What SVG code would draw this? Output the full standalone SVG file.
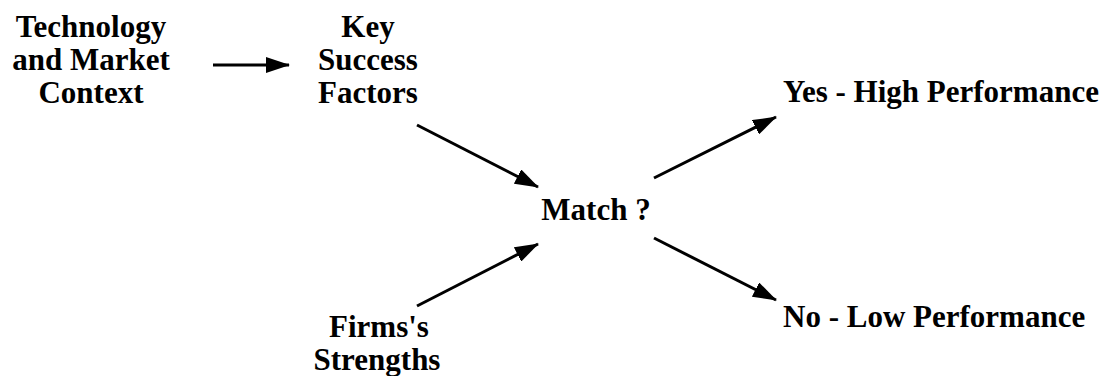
<svg xmlns="http://www.w3.org/2000/svg" width="1112" height="376" viewBox="0 0 1112 376">
<style>
.t{font-family:"Liberation Serif","Times New Roman",serif;font-weight:bold;font-size:31px;fill:#000}
.c{text-anchor:middle}
.e{stroke:#000;stroke-width:3;fill:none}
</style>
<defs>
<marker id="ah" markerUnits="userSpaceOnUse" markerWidth="24" markerHeight="16" refX="23" refY="8" orient="auto">
<path d="M0,0 L24,8 L0,16 Z" fill="#000"/>
</marker>
</defs>
<rect width="1112" height="376" fill="#fff"/>
<g id="n-tech"><text class="t c" x="91" y="37">Technology</text><text class="t c" x="91" y="70">and Market</text><text class="t c" x="91" y="103">Context</text></g>
<g id="n-ksf"><text class="t c" x="368" y="37">Key</text><text class="t c" x="368" y="70">Success</text><text class="t c" x="368" y="103">Factors</text></g>
<g id="n-match"><text class="t c" x="596" y="220">Match ?</text></g>
<g id="n-yes"><text class="t" x="783" y="102">Yes - High Performance</text></g>
<g id="n-no"><text class="t" x="783" y="327">No - Low Performance</text></g>
<g id="n-firm"><text class="t c" x="379" y="337">Firms's</text><text class="t c" x="377" y="370">Strengths</text></g>
<g id="connectors">
<line class="e" x1="213" y1="65" x2="289" y2="65" marker-end="url(#ah)"/>
<line class="e" x1="417" y1="125" x2="538" y2="187" marker-end="url(#ah)"/>
<line class="e" x1="417" y1="306" x2="538" y2="244" marker-end="url(#ah)"/>
<line class="e" x1="654" y1="178" x2="776" y2="117" marker-end="url(#ah)"/>
<line class="e" x1="654" y1="238" x2="776" y2="300" marker-end="url(#ah)"/>
</g>
</svg>
